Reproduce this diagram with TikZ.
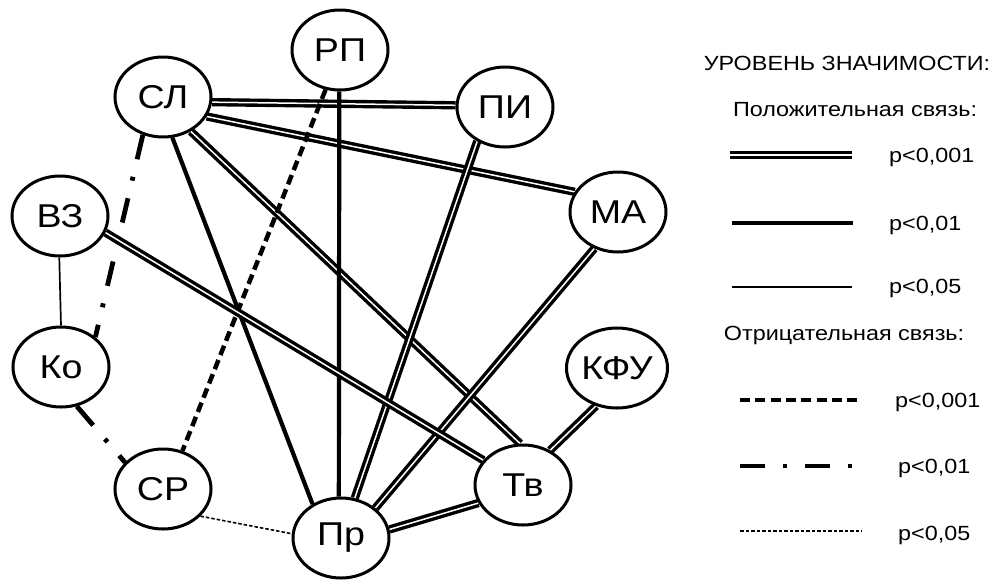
\documentclass[tikz,border=0pt]{standalone}
\usepackage{fontspec}
\setmainfont{Liberation Sans}[FakeStretch=1.14]
\usetikzlibrary{shapes.geometric,backgrounds}
\begin{document}
\begin{tikzpicture}[x=1pt,y=-1pt,
  var/.style={ellipse, draw, line width=3pt, fill=white, minimum width=96pt,
    minimum height=80pt, inner sep=0pt, font=\fontsize{33}{38}\selectfont},
  posthree/.style={line width=3.4pt, double=white, double distance=1.5pt},
  postwo/.style={line width=4.2pt},
  posone/.style={line width=1.7pt},
  negthree/.style={line width=4.5pt, dash pattern=on 10pt off 5.3pt},
  negtwo/.style={line width=4.8pt, dash pattern=on 25pt off 18pt on 4pt off 18pt},
  negone/.style={line width=1.6pt, dash pattern=on 3.5pt off 2pt},
  lbl/.style={font=\fontsize{20.5}{24}\selectfont, inner sep=0pt, anchor=base west},
  hdr/.style={font=\fontsize{20.5}{24}\selectfont, inner sep=0pt, anchor=base}
]
\useasboundingbox (0,0) rectangle (990,582);

% nodes
\node[var] (SL)  at (163,97)  {СЛ};
\node[var] (RP)  at (340,50)  {РП};
\node[var] (PI)  at (505,107) {ПИ};
\node[var] (VZ)  at (60,216)  {ВЗ};
\node[var] (MA)  at (618,212) {МА};
\node[var] (Ko)  at (61,367)  {Ко};
\node[var] (KFU) at (617,368) {КФУ};
\node[var] (SR)  at (163,489) {СР};
\node[var] (Tv)  at (523,485) {Тв};
\node[var] (Pr)  at (341,538) {Пр};

% edges
\begin{scope}[on background layer]
\draw[posthree] (SL.-6)   -- (PI.178);
\draw[posthree] (SL.-24)  -- (MA.155);
\draw[posthree] (SL.-51)  -- (Tv.94);
\draw[postwo]   (SL.-77)  -- (Pr.130);
\draw[negtwo]   (SL.-118) -- (Ko.41);
\draw[postwo]   (RP.-91)  -- (Pr.93);
\draw[negthree] (RP.-110) -- (SR.63);
\draw[posthree] (PI.-129) -- (Pr.71);
\draw[posthree] (MA.-123) -- (Pr.41);
\draw[posthree] (VZ.-20)  -- (Tv.148);
\draw[posone]   (VZ.-91)  -- (Ko.90);
\draw[negtwo]   (Ko.-68)  -- (SR.145);
\draw[negone]   (SR.-36)  -- (Pr.175);
\draw[posthree] (Tv.-158) -- (Pr.10);
\draw[posthree] (KFU.-119) -- (Tv.52);
\end{scope}

% legend
\node[hdr] (title) at (847,70)  {УРОВЕНЬ ЗНАЧИМОСТИ:};
\node[hdr] (posh)  at (855,116) {Положительная связь:};
\node[hdr] (negh)  at (844,340) {Отрицательная связь:};

\coordinate (l1a) at (730,155); \coordinate (l1b) at (852,155);
\coordinate (l2a) at (732,223); \coordinate (l2b) at (853,223);
\coordinate (l3a) at (732,287); \coordinate (l3b) at (852,287);
\coordinate (l4a) at (740,400); \coordinate (l4b) at (857,400);
\coordinate (l5a) at (740,466); \coordinate (l5b) at (852,466);
\coordinate (l6a) at (740,531); \coordinate (l6b) at (862,531);
\draw[posthree] (l1a) -- (l1b);
\draw[postwo]   (l2a) -- (l2b);
\draw[posone]   (l3a) -- (l3b);
\draw[negthree] (l4a) -- (l4b);
\draw[negtwo]   (l5a) -- (l5b);
\draw[negone]   (l6a) -- (l6b);

\node[lbl] (p1) at (889,162) {p<0,001};
\node[lbl] (p2) at (889,230) {p<0,01};
\node[lbl] (p3) at (889,293) {p<0,05};
\node[lbl] (p4) at (895,407) {p<0,001};
\node[lbl] (p5) at (898,473) {p<0,01};
\node[lbl] (p6) at (898,540) {p<0,05};
\end{tikzpicture}
\end{document}
